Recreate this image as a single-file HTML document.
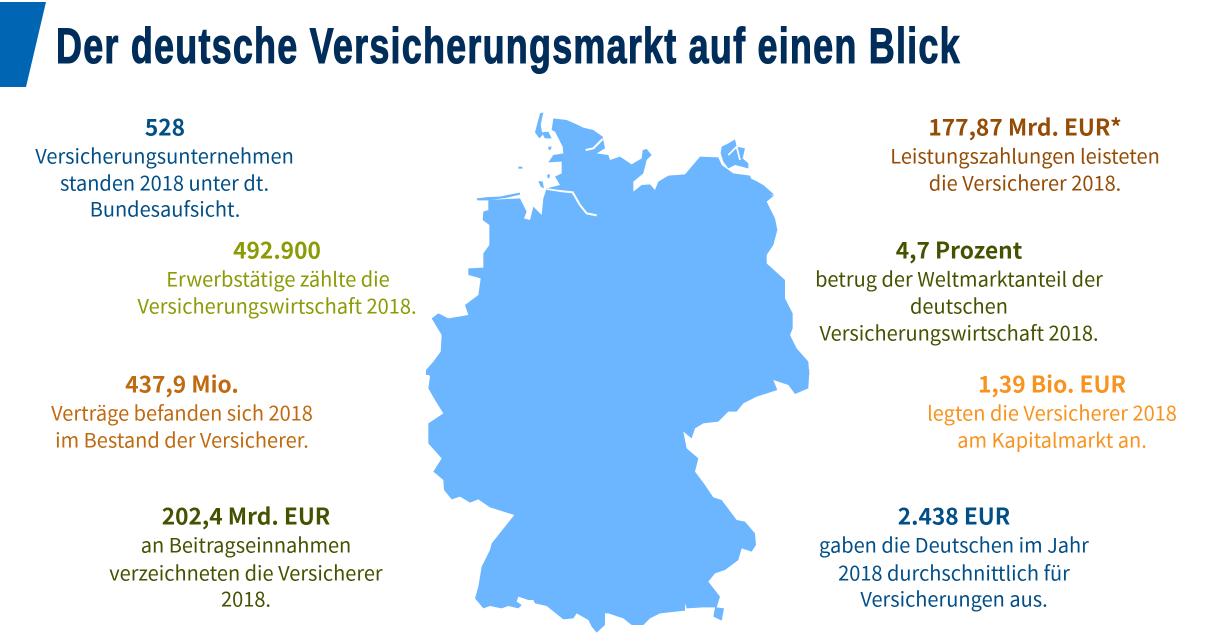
<!DOCTYPE html>
<html lang="de">
<head>
<meta charset="utf-8">
<title>Der deutsche Versicherungsmarkt auf einen Blick</title>
<style>
html,body{margin:0;padding:0;background:#fff;}
svg{display:block;}
.t{font-family:"Noto Sans CJK SC","Liberation Sans",sans-serif;font-size:20px;text-anchor:middle;}
.h{font-family:"Noto Sans CJK SC","Liberation Sans",sans-serif;font-size:22.7px;font-weight:700;text-anchor:middle;}
.blue{fill:#024f88;}.lime{fill:#8c9a05;}.ochre{fill:#bf6a10;}.olive{fill:#465200;}.brown{fill:#954c05;}.orange{fill:#f7931e;}
</style>
</head>
<body>
<svg width="1208" height="643" viewBox="0 0 1208 643" xmlns="http://www.w3.org/2000/svg">
<polygon points="0,2 46,2 26,87 0,87" fill="#0066b3"/>
<g transform="translate(56,63) scale(0.72,1)">
<text x="0" y="0" textLength="1255" lengthAdjust="spacing" font-family="'Liberation Sans',sans-serif" font-weight="700" font-size="50" fill="#002d59" stroke="#002d59" stroke-width="1.1">Der deutsche Versicherungsmarkt auf einen Blick</text>
</g>

<g fill="#6bb6ff">
<g transform="translate(420,105) scale(0.33333)">
<polygon points="400,40 440,45 470,58 490,68 520,75 548,95 555,130 530,145 565,150 570,165 600,155 635,178 665,160 668,135 680,132 695,150 680,165 670,205 640,230 640,260 665,240 690,238 705,255 715,230 745,212 795,208 840,155 895,157 905,180 940,205 990,212 1010,262 1062,272 1040,290 1050,310 1065,340 1072,375 1060,420 1040,450 1040,475 1095,525 1095,580 1118,625 1118,670 1110,690 1130,730 1165,770 1168,810 18,810 18,795 40,770 62,740 65,690 35,640 55,625 85,640 145,630 135,600 175,570 182,520 145,510 145,490 190,488 190,445 208,420 208,360 188,345 190,320 205,315 205,285 300,280 320,320 312,340 330,345 340,305 365,330 370,280 380,250 420,240 405,215 425,205 425,170 385,172 400,150 430,145 428,125 405,80 395,75"/>
<polygon points="360,25 370,22 362,60 368,90 358,100 345,82"/>
<polygon points="365,82 385,80 395,100 375,100"/>
<polygon points="385,125 395,125 392,135 385,133"/>
<polygon points="295,185 307,185 307,191 295,191"/>
<polygon points="170,280 205,276 240,275 262,270 300,263 300,269 262,278 205,286 172,286"/>
<polygon points="355,228 368,230 372,250 362,245"/>
<polygon points="382,208 390,208 388,220 382,218"/>
<polygon points="905,125 925,115 945,103 950,125 975,130 968,160 985,175 985,190 945,180 925,190 910,170 902,145"/>
<polygon points="992,220 1012,230 1030,240 1062,268 1040,272 1010,268 998,245"/>
<polyline points="420,258 458,262 480,300 500,325 530,331" fill="none" stroke="#fff" stroke-width="6"/>
<polyline points="497,135 520,130 548,102" fill="none" stroke="#fff" stroke-width="6"/>
<polyline points="380,252 420,258" fill="none" stroke="#fff" stroke-width="5"/>
<polyline points="925,150 950,125 960,165" fill="none" stroke="#fff" stroke-width="5"/>
</g>
<g transform="translate(420,370) scale(0.33333)">
<polygon points="1168,0 1165,55 1125,72 1105,45 1060,30 1072,60 1010,80 970,100 950,125 925,125 895,155 850,160 825,175 815,205 790,185 800,235 835,265 825,305 855,345 880,382 905,390 950,450 975,455 1005,490 1008,525 995,545 965,535 955,570 915,600 885,610 865,635 900,680 890,712 912,715 905,752 880,740 885,712 850,712 800,715 795,700 795,722 720,730 690,745 670,765 635,765 610,745 565,730 555,730 555,765 530,788 515,770 505,750 470,730 460,745 430,748 380,708 345,700 340,690 325,690 295,680 290,695 305,705 295,715 265,708 245,715 210,708 190,715 165,685 175,650 185,590 210,540 215,520 283,435 210,412 175,388 150,398 120,380 95,388 72,360 70,330 40,305 65,265 25,220 25,160 70,130 45,90 25,55 30,20 18,0"/>
</g>
</g>

<g transform="translate(0,0.5)">
<g class="blue">
<text class="h" x="165" y="135">528</text>
<text class="t" x="164.5" y="163">Versicherungsunternehmen</text>
<text class="t" x="164.5" y="190">standen 2018 unter dt.</text>
<text class="t" x="165" y="216">Bundesaufsicht.</text>
</g>
<g class="lime">
<text class="h" x="277" y="258">492.900</text>
<text class="t" x="278" y="286">Erwerbstätige zählte die</text>
<text class="t" x="277" y="313">Versicherungswirtschaft 2018.</text>
</g>
<g class="ochre">
<text class="h" x="182" y="392">437,9 Mio.</text>
<text class="t" x="182" y="420">Verträge befanden sich 2018</text>
<text class="t" x="182" y="447">im Bestand der Versicherer.</text>
</g>
<g class="olive">
<text class="h" x="246" y="524">202,4 Mrd. EUR</text>
<text class="t" x="246" y="552">an Beitragseinnahmen</text>
<text class="t" x="246" y="580">verzeichneten die Versicherer</text>
<text class="t" x="246" y="606">2018.</text>
</g>
<g class="brown">
<text class="h" x="1025" y="135">177,87 Mrd. EUR*</text>
<text class="t" x="1025" y="163">Leistungszahlungen leisteten</text>
<text class="t" x="1025" y="190">die Versicherer 2018.</text>
</g>
<g class="olive">
<text class="h" x="959" y="258">4,7 Prozent</text>
<text class="t" x="959" y="286">betrug der Weltmarktanteil der</text>
<text class="t" x="959" y="313">deutschen</text>
<text class="t" x="959" y="340">Versicherungswirtschaft 2018.</text>
</g>
<g class="orange">
<text class="h" x="1052" y="392">1,39 Bio. EUR</text>
<text class="t" x="1052" y="420">legten die Versicherer 2018</text>
<text class="t" x="1052" y="447">am Kapitalmarkt an.</text>
</g>
<g class="blue">
<text class="h" x="954" y="524">2.438 EUR</text>
<text class="t" x="954" y="552">gaben die Deutschen im Jahr</text>
<text class="t" x="954" y="580">2018 durchschnittlich für</text>
<text class="t" x="954" y="606">Versicherungen aus.</text>
</g>
</g>
</svg>
</body>
</html>
